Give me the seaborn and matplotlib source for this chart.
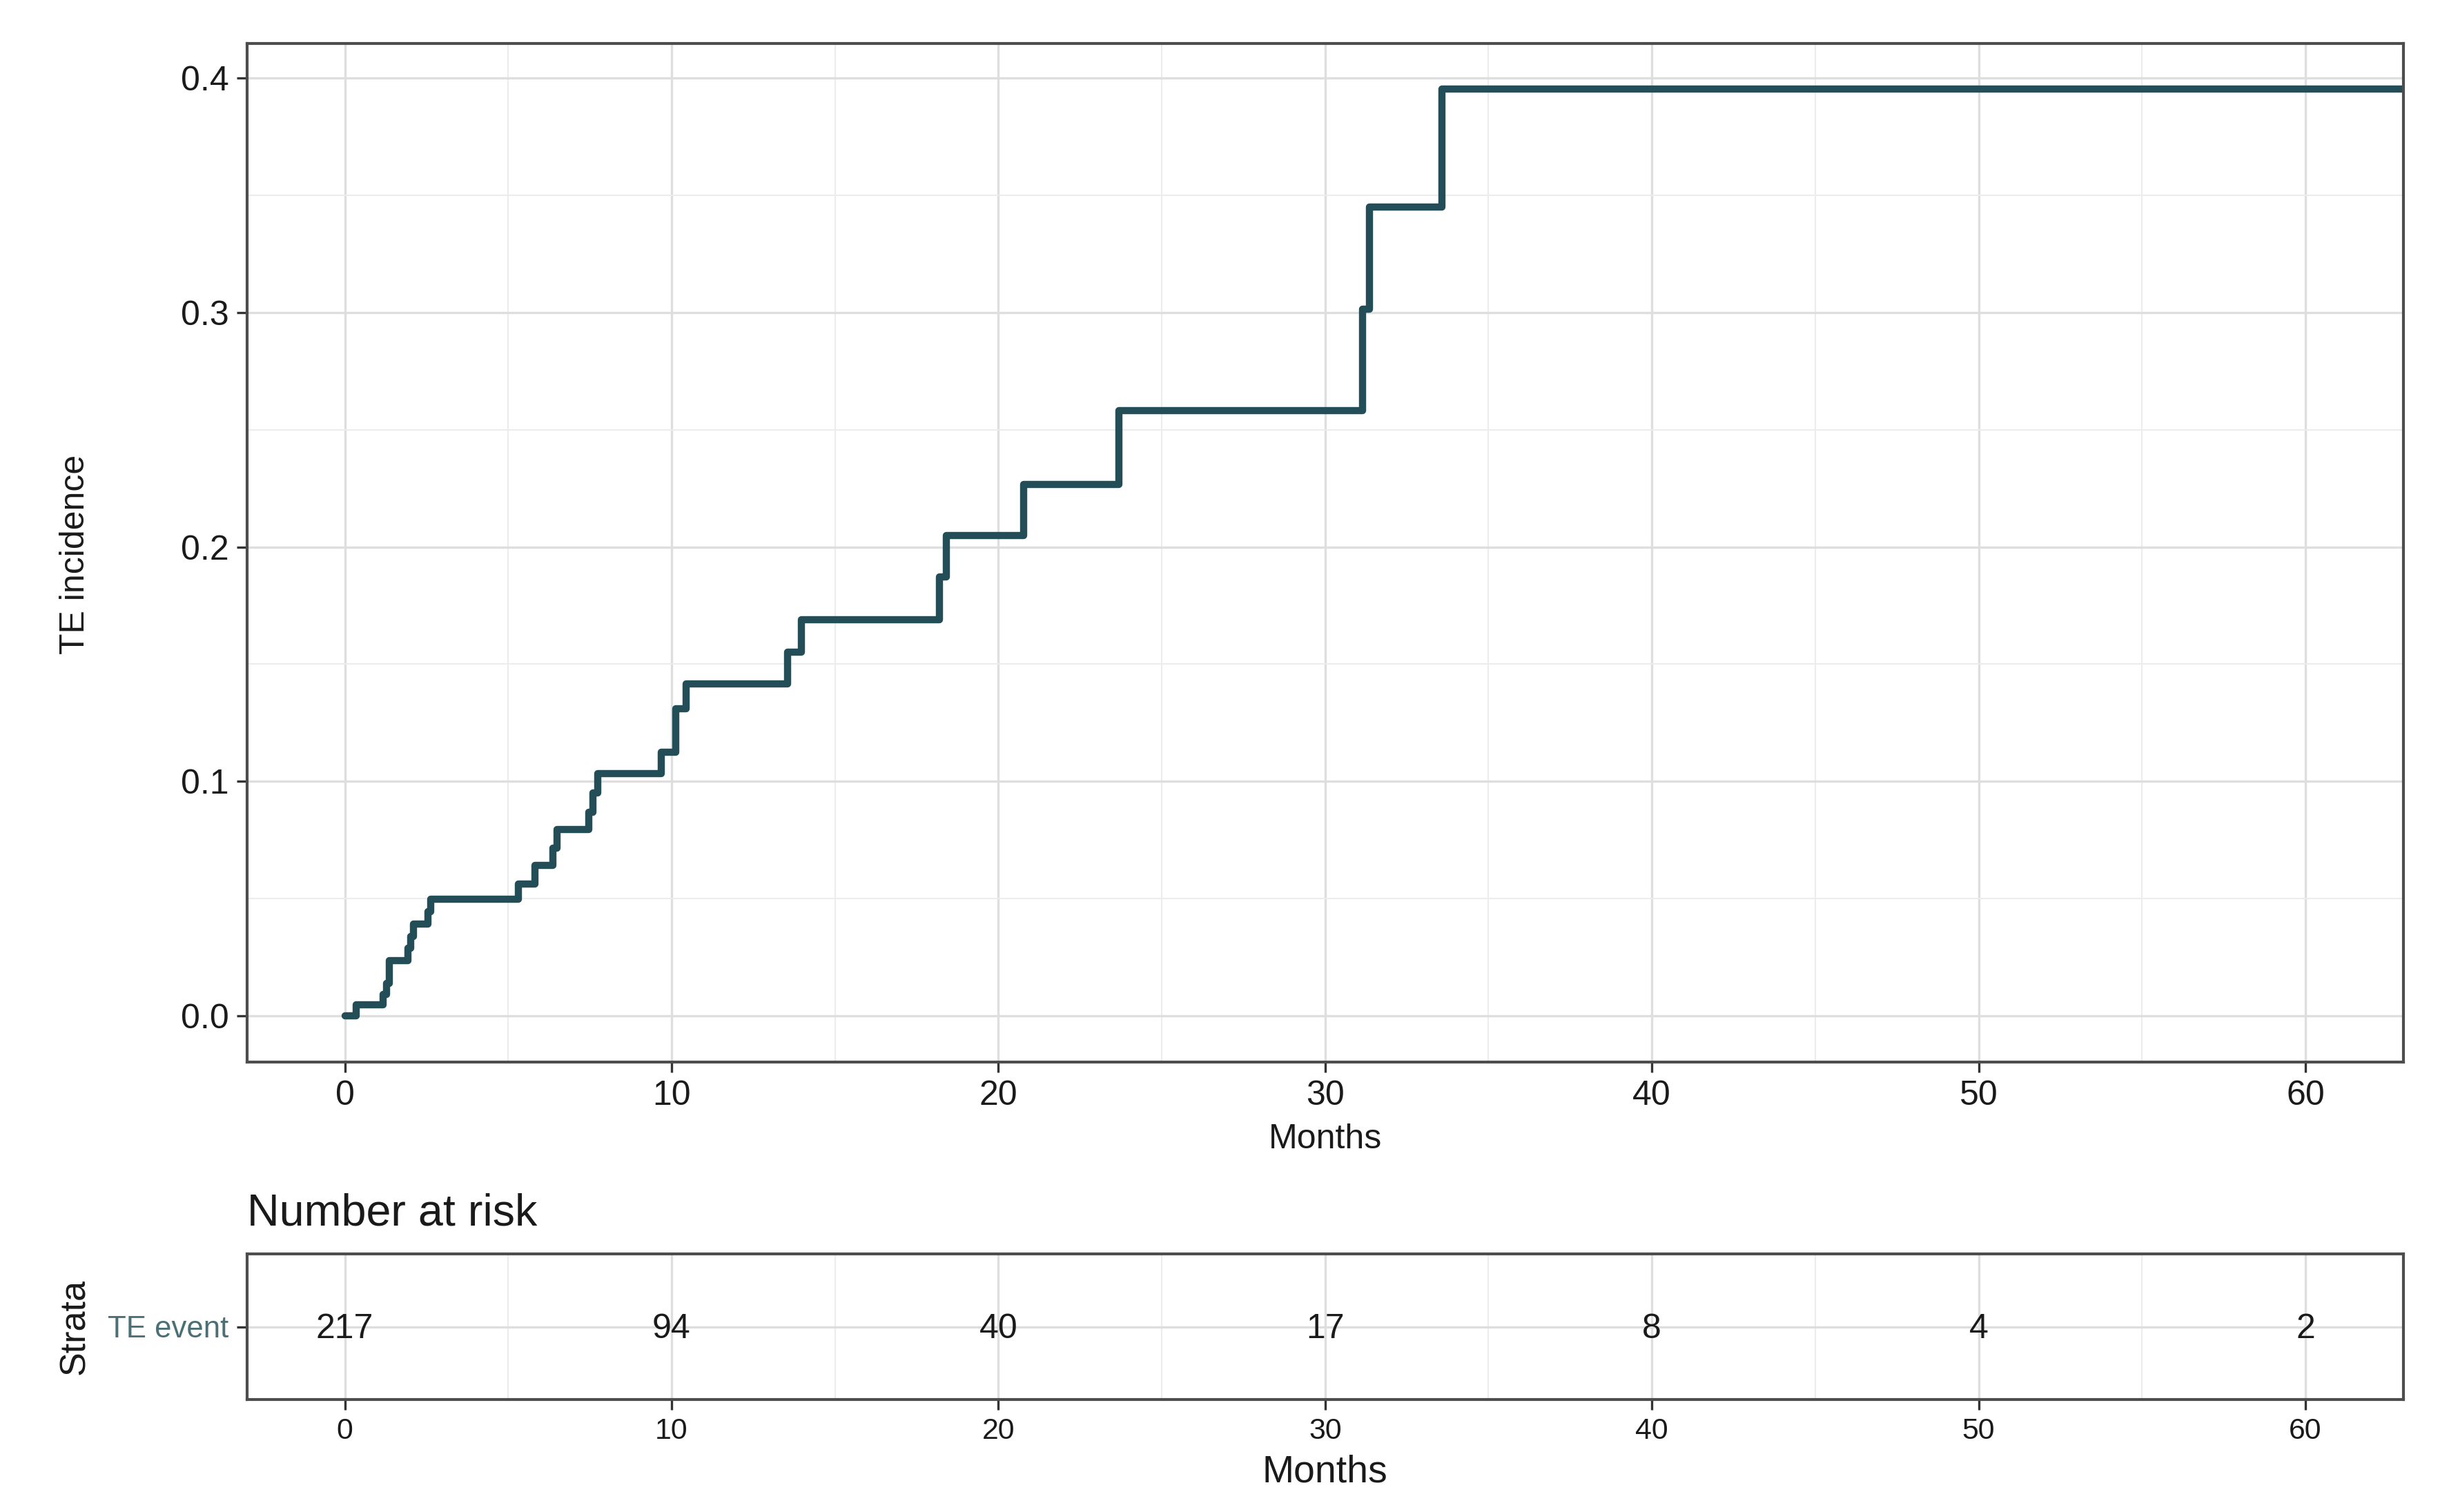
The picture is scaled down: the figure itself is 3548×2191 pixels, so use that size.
import pandas as pd
import matplotlib
matplotlib.use("Agg")
import matplotlib.pyplot as plt
from matplotlib.ticker import MultipleLocator
import seaborn as sns


# =========================================
# DATA
# =========================================

months = [0, 0.35, 1.17, 1.28, 1.37, 1.94, 2.02, 2.10, 2.54, 2.62,
          5.32, 5.81, 6.37, 6.50, 7.46, 7.60, 7.75, 9.69, 10.13, 10.45,
          13.55, 13.97, 18.20, 18.40, 20.78, 23.68, 31.15, 31.35, 33.58, 63.5]

incidence = [0, 0.0046, 0.0092, 0.0138, 0.0235, 0.0288, 0.0337, 0.0390, 0.0445, 0.0497,
             0.0563, 0.0641, 0.0715, 0.0794, 0.0867, 0.0950, 0.1033, 0.1125, 0.1310, 0.1415,
             0.1550, 0.1690, 0.1873, 0.2050, 0.2267, 0.2580, 0.3015, 0.3450, 0.3953, 0.3953]

risk_times = [0, 10, 20, 30, 40, 50, 60]
risk_counts = [217, 94, 40, 17, 8, 4, 2]
strata = ["TE event"]

y_ticks = [0.0, 0.1, 0.2, 0.3, 0.4]
x_ticks = [0, 10, 20, 30, 40, 50, 60]

curve_df = pd.DataFrame({"Months": months, "incidence": incidence})


# =========================================
# STYLE
# =========================================

sns.set_theme(style="whitegrid")
plt.rcParams["font.family"] = ["Liberation Sans", "DejaVu Sans"]

line_color = "#234e58"
strata_color = "#4a7075"
border_color = "#4d4d4d"
major_grid = "#dedede"
minor_grid = "#ececec"

W, H = 3548, 2191
fig = plt.figure(figsize=(W / 300, H / 300), dpi=300)
fig.patch.set_facecolor("white")

left = 357.5 / W
width = (3482 - 357.5) / W
ax = fig.add_axes([left, 1 - 1539 / H, width, (1539 - 63) / H])
ax2 = fig.add_axes([left, 1 - 2028 / H, width, (2028 - 1817) / H])


def style_axes(a, tick_size):
    a.set_facecolor("white")
    for side in a.spines.values():
        side.set_visible(True)
        side.set_color(border_color)
        side.set_linewidth(1.0)
    a.tick_params(axis="both", which="major", direction="out", length=3.6,
                  width=0.8, color="#333333", labelsize=tick_size,
                  labelcolor="#1a1a1a", pad=2.6, bottom=True, left=True)
    a.tick_params(axis="both", which="minor", length=0)
    a.grid(True, which="major", color=major_grid, linewidth=0.8)
    a.grid(True, which="minor", color=minor_grid, linewidth=0.5)
    a.set_axisbelow(True)


# =========================================
# CUMULATIVE INCIDENCE CURVE
# =========================================

sns.lineplot(
    data=curve_df,
    x="Months",
    y="incidence",
    drawstyle="steps-post",
    color=line_color,
    linewidth=2.5,
    estimator=None,
    sort=False,
    ax=ax
)

ax.set_xlim(-3, 63)
ax.set_ylim(-0.01975, 0.41475)
ax.set_xticks(x_ticks)
ax.set_yticks(y_ticks)
ax.set_yticklabels([f"{v:.1f}" for v in y_ticks])
ax.xaxis.set_minor_locator(MultipleLocator(5))
ax.yaxis.set_minor_locator(MultipleLocator(0.05))
style_axes(ax, 12)

ax.set_xlabel("Months", fontsize=12, color="#1a1a1a")
ax.xaxis.label.set_va("center")
ax.xaxis.set_label_coords(0.5, (1539 - 1651) / (1539 - 63))
ax.set_ylabel("TE incidence", fontsize=12, color="#1a1a1a")
ax.yaxis.label.set_va("center")
ax.yaxis.set_label_coords((109 - 357.5) / (3482 - 357.5), (1539 - 803) / (1539 - 63))


# =========================================
# NUMBER AT RISK TABLE
# =========================================

for t, n in zip(risk_times, risk_counts):
    ax2.text(t, -0.02, str(n), ha="center", va="center", fontsize=12, color="#1a1a1a")

ax2.set_xlim(-3, 63)
ax2.set_ylim(-0.6, 0.6)
ax2.set_xticks(x_ticks)
ax2.set_yticks([0])
ax2.set_yticklabels(strata)
ax2.xaxis.set_minor_locator(MultipleLocator(5))
style_axes(ax2, 10.3)
ax2.tick_params(axis="y", labelsize=10.5, labelcolor=strata_color)

ax2.set_xlabel("Months", fontsize=13.3, color="#1a1a1a")
ax2.xaxis.label.set_va("center")
ax2.xaxis.set_label_coords(0.5, (2028 - 2134) / (2028 - 1817))
ax2.set_ylabel("Strata", fontsize=12.5, color="#1a1a1a")
ax2.yaxis.label.set_va("center")
ax2.yaxis.set_label_coords((109 - 357.5) / (3482 - 357.5), 0.5)

fig.text(left, 1 - 1758 / H, "Number at risk", fontsize=15.5,
         ha="left", va="center", color="#1a1a1a")

fig.savefig("out.png", dpi=300, facecolor="white")
